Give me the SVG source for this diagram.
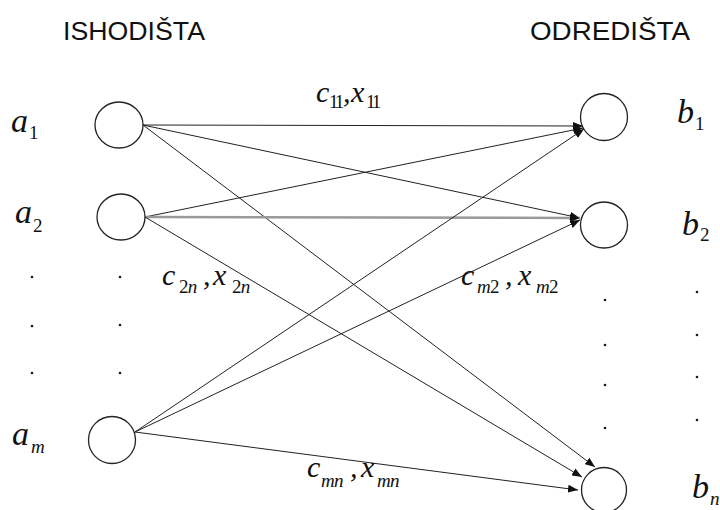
<svg xmlns="http://www.w3.org/2000/svg" width="720" height="510" viewBox="0 0 720 510">
<defs>
<style>
.head{font-family:"Liberation Sans",Arial,sans-serif;font-size:26px;fill:#111}
.mi{font-family:"Liberation Serif","Times New Roman",serif;font-style:italic;fill:#111}
.big{font-size:34px}
.lab{font-size:30px}
.sub{font-size:19px}
.up{font-style:normal}
.tight{letter-spacing:-3px}
.snug{letter-spacing:-0.8px}
.node{fill:#fff;stroke:#222;stroke-width:1.3}
.edge{stroke:#222;stroke-width:1;fill:none}
.dot{fill:#1a1a1a}
</style>
<marker id="arr" markerUnits="userSpaceOnUse" markerWidth="11" markerHeight="8" refX="10" refY="4" orient="auto">
<path d="M0,0 L10,4 L0,8 z" fill="#111"/>
</marker>
</defs>
<rect width="720" height="510" fill="#fff"/>
<text class="head" x="63" y="40" textLength="142" lengthAdjust="spacingAndGlyphs">ISHODIŠTA</text>
<text class="head" x="530" y="40" textLength="160" lengthAdjust="spacingAndGlyphs">ODREDIŠTA</text>

<g id="connectors">
<line class="edge" x1="143" y1="125" x2="583" y2="126" marker-end="url(#arr)"/>
<line class="edge" x1="143" y1="125" x2="580" y2="218" marker-end="url(#arr)"/>
<line class="edge" x1="143" y1="125" x2="595" y2="467" marker-end="url(#arr)"/>
<line class="edge" x1="145" y1="217" x2="583" y2="128" marker-end="url(#arr)"/>
<line x1="145" y1="217" x2="580" y2="218" stroke="#9a9a9a" stroke-width="2.5" marker-end="url(#arr)"/>
<line class="edge" x1="145" y1="217" x2="582" y2="477" marker-end="url(#arr)"/>
<line class="edge" x1="135" y1="432" x2="584" y2="129" marker-end="url(#arr)"/>
<line class="edge" x1="135" y1="432" x2="580" y2="220" marker-end="url(#arr)"/>
<line class="edge" x1="135" y1="432" x2="578" y2="490" marker-end="url(#arr)"/>
</g>

<g id="a1"><ellipse class="node" cx="119" cy="125" rx="24" ry="23"/>
<text class="mi big" x="11" y="132">a<tspan class="sub up" x="29" y="139">1</tspan></text></g>
<g id="a2"><ellipse class="node" cx="121" cy="217" rx="24" ry="23"/>
<text class="mi big" x="15" y="223">a<tspan class="sub up" x="33" y="232">2</tspan></text></g>
<g id="am"><ellipse class="node" cx="112" cy="440" rx="23.5" ry="23.5"/>
<text class="mi big" x="12" y="445">a<tspan class="sub" x="31" y="453">m</tspan></text></g>
<g id="b1"><ellipse class="node" cx="604" cy="117" rx="23.5" ry="23.5"/>
<text class="mi big" x="677" y="123">b<tspan class="sub up" x="695" y="130">1</tspan></text></g>
<g id="b2"><ellipse class="node" cx="604" cy="225" rx="23.5" ry="23"/>
<text class="mi big" x="682" y="235">b<tspan class="sub up" x="700" y="241">2</tspan></text></g>
<g id="bn"><ellipse class="node" cx="604" cy="490" rx="22.5" ry="22.5"/>
<text class="mi big" x="692" y="498">b<tspan class="sub" x="710" y="505">n</tspan></text></g>

<g id="edge-labels">
<text class="mi lab" x="316" y="102">c<tspan class="sub up tight" x="329" y="108">11</tspan><tspan x="343" y="102">,</tspan><tspan x="351">x</tspan><tspan class="sub up tight" x="366" y="108">11</tspan></text>
<text class="mi lab" x="162" y="285">c<tspan class="sub snug" x="179" y="293"><tspan class="up">2</tspan>n</tspan><tspan x="203" y="285">,</tspan><tspan x="213">x</tspan><tspan class="sub snug" x="232" y="293"><tspan class="up">2</tspan>n</tspan></text>
<text class="mi lab" x="461" y="285">c<tspan class="sub snug" x="477" y="293">m<tspan class="up">2</tspan></tspan><tspan x="505" y="285">,</tspan><tspan x="518">x</tspan><tspan class="sub snug" x="536" y="293">m<tspan class="up">2</tspan></tspan></text>
<text class="mi lab" x="307" y="477">c<tspan class="sub snug" x="321" y="487">mn</tspan><tspan x="350" y="477">,</tspan><tspan x="361">x</tspan><tspan class="sub snug" x="377" y="487">mn</tspan></text>
</g>

<g id="dots">
<circle class="dot" cx="32" cy="277" r="1.3"/><circle class="dot" cx="32" cy="326" r="1.3"/><circle class="dot" cx="32" cy="373" r="1.3"/>
<circle class="dot" cx="120" cy="277" r="1.3"/><circle class="dot" cx="120" cy="325" r="1.3"/><circle class="dot" cx="120" cy="373" r="1.3"/>
<circle class="dot" cx="605" cy="300" r="1.3"/><circle class="dot" cx="605" cy="345" r="1.3"/><circle class="dot" cx="605" cy="385" r="1.3"/><circle class="dot" cx="605" cy="428" r="1.3"/>
<circle class="dot" cx="697" cy="292" r="1.3"/><circle class="dot" cx="697" cy="335" r="1.3"/><circle class="dot" cx="697" cy="377" r="1.3"/><circle class="dot" cx="697" cy="420" r="1.3"/>
</g>
</svg>
